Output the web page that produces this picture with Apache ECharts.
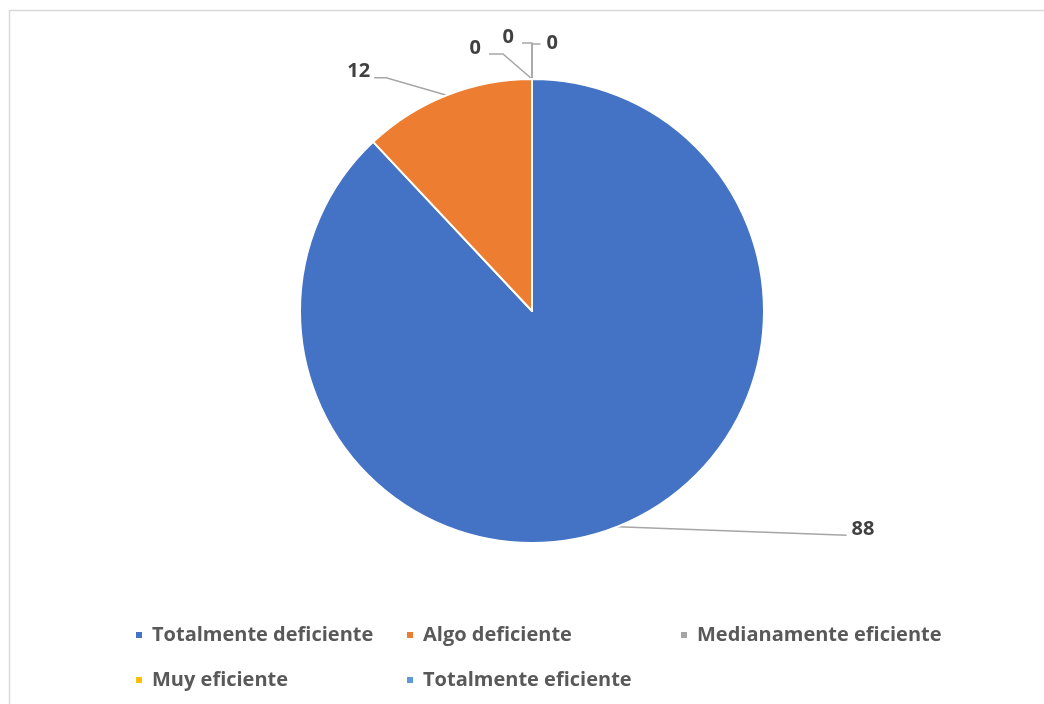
<!DOCTYPE html>
<html>
<head>
<meta charset="utf-8">
<script src="https://cdn.jsdelivr.net/npm/echarts@6/dist/echarts.min.js"></script>
<style>
html,body{margin:0;padding:0;background:#fff;}
#chart{width:1044px;height:704px;}
</style>
</head>
<body>
<div id="chart"></div>
<script>
const categories = ['Totalmente deficiente', 'Algo deficiente', 'Medianamente eficiente', 'Muy eficiente', 'Totalmente eficiente'];
const values = [88, 12, 0, 0, 0];
const colors = ['#4472C4', '#ED7D31', '#A5A5A5', '#FFC000', '#5B9BD5'];
// label offsets (dx, dy) for separating the overlapping labels
const labelShift = [[2, -3], [-33, 22], [-34, -1], [-1, -12], [43, -6]];

const FONT = 'Open Sans';
const chart = echarts.init(document.getElementById('chart'), null, {renderer: 'canvas'});

const data = categories.map((c, i) => ({name: c, value: values[i], itemStyle: {color: colors[i]}}));

const legendCommon = {
  orient: 'vertical',
  icon: 'rect',
  itemWidth: 8,
  itemHeight: 8,
  itemGap: 25,
  textStyle: {fontFamily: FONT, fontWeight: 'bold', fontSize: 20, color: '#595959', padding: [0, 0, 0, 4]},
  selectedMode: false
};

function guide(p) {
  const s = labelShift[p.dataIndex];
  const r = p.labelRect;
  const x0 = r.x + s[0], y0 = r.y + s[1];
  const right = x0 + r.width, cy = y0 + r.height / 2;
  const p0 = p.labelLinePoints[0];
  switch (p.dataIndex) {
    case 0: return [p0, [x0 - 5, cy + 6]];
    case 1: return [p0, [right + 16, cy + 7], [right + 4, cy + 7]];
    case 2: return [p0, [right + 22, cy + 6], [right + 8, cy + 6]];
    case 3: return [p0, [p0[0], cy + 6], [right + 8, cy + 6]];
    case 4: return [p0, [p0[0], cy + 1], [x0 - 6, cy + 1]];
  }
}

chart.setOption({
  animation: false,
  graphic: [{
    type: 'rect',
    shape: {x: 9.5, y: 10.5, width: 1100, height: 800},
    style: {fill: 'none', stroke: '#D9D9D9', lineWidth: 1.5},
    silent: true
  }],
  legend: [
    Object.assign({left: 129, top: 620, data: [categories[0], categories[3]]}, legendCommon),
    Object.assign({left: 400, top: 620, data: [categories[1], categories[4]]}, legendCommon),
    Object.assign({left: 674, top: 620, data: [categories[2]]}, legendCommon)
  ],
  series: [{
    type: 'pie',
    center: [532, 311],
    radius: 232,
    startAngle: 90,
    clockwise: true,
    avoidLabelOverlap: false,
    stillShowZeroSum: true,
    itemStyle: {borderColor: '#fff', borderWidth: 2},
    label: {
      show: true,
      position: 'outside',
      formatter: '{c}',
      fontFamily: FONT,
      fontWeight: 'bold',
      fontSize: 20,
      color: '#404040'
    },
    labelLine: {show: true, length: 6, length2: 225, lineStyle: {color: '#A6A6A6', width: 1.5}},
    labelLayout: function (p) {
      const s = labelShift[p.dataIndex];
      const out = {labelLinePoints: guide(p)};
      if (s[0] || s[1]) { out.dx = s[0]; out.dy = s[1]; }
      return out;
    },
    data: data.map((d, i) => {
      if (i === 1) return Object.assign({labelLine: {length: 50, length2: 20}}, d);
      if (i >= 2) return Object.assign({labelLine: {length: 30, length2: 12}}, d);
      return d;
    })
  }]
});
</script>
</body>
</html>
